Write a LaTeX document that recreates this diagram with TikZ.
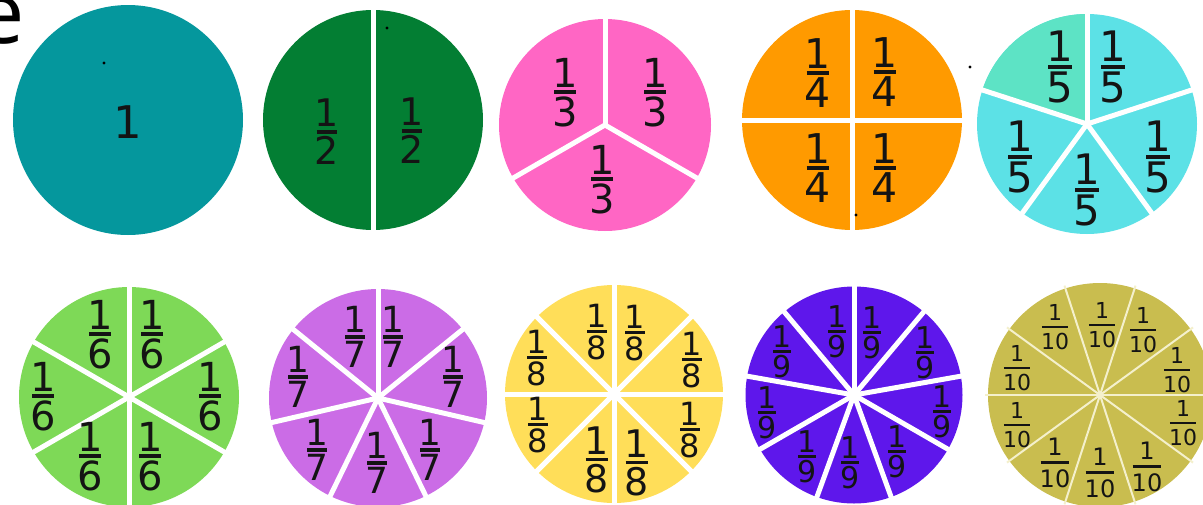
\documentclass[tikz,border=0pt]{standalone}
\usepackage{fontspec}
\setmainfont{DejaVu Sans}
\newfontfamily\osans{Open Sans}
\definecolor{ink}{HTML}{141414}
\definecolor{cTeal}{HTML}{05979D}
\definecolor{cGreen}{HTML}{037E33}
\definecolor{cPink}{HTML}{FF66C4}
\definecolor{cOrange}{HTML}{FF9A00}
\definecolor{cCyan}{HTML}{5CE1E6}
\definecolor{cMint}{HTML}{5DE3C5}
\definecolor{cLime}{HTML}{7ED957}
\definecolor{cViolet}{HTML}{CB6CE6}
\definecolor{cYellow}{HTML}{FFDE59}
\definecolor{cIndigo}{HTML}{5E17EB}
\definecolor{cOlive}{HTML}{C9BD4F}
\definecolor{cCream}{HTML}{F4F0CC}
\newcommand\fr[3]{\vbox{\offinterlineskip\halign{\hfil##\hfil\cr 1\cr\noalign{\kern#2}\rule{#3}{0.1em}\cr\noalign{\kern#2}#1\cr}}}
\begin{document}
\begin{tikzpicture}[x=1pt,y=-1pt,
  disc/.style={circle,inner sep=0pt,outer sep=0pt,minimum size=#1},
  cut/.style={white,line width=5pt,shorten >=-3pt},
  thincut/.style={cCream,line width=2pt,shorten >=-3pt},
  fs/.style={inner sep=0pt,text=ink,font=\fontsize{#1pt}{#1pt}\selectfont},
  speck/.style={fill=black}]
\useasboundingbox (0,0) rectangle (1203,504);
\fill[white] (0,0) rectangle (1203,504);
% letter at top left
\node[anchor=base west,inner sep=0pt,font=\fontsize{86pt}{86pt}\selectfont\osans] (e) at (-24,43) {e};
% discs
\node[disc=230pt,fill=cTeal] (c1) at (128,120) {};
\node[disc=220pt,fill=cGreen] (c2) at (373,120) {};
\node[disc=212pt,fill=cPink] (c3) at (605,125) {};
\node[disc=220pt,fill=cOrange] (c4) at (852,120) {};
\node[disc=220pt,fill=cCyan] (c5) at (1087,124) {};
\node[disc=220pt,fill=cLime] (c6) at (129,397) {};
\node[disc=218pt,fill=cViolet] (c7) at (378,398) {};
\node[disc=218pt,fill=cYellow] (c8) at (614,394) {};
\node[disc=217pt,fill=cIndigo] (c9) at (854,395) {};
\node[disc=224pt,fill=cOlive] (c10) at (1100,395) {};
% mint slice of the fifths
\fill[cMint] (c5.center) -- (c5.90) arc[start angle=90,end angle=162,radius=110pt] -- cycle;
% dividers
\foreach \a in {90,270} \draw[cut] (c2.center) -- (c2.\a);
\foreach \a in {90,210,330} \draw[cut] (c3.center) -- (c3.\a);
\foreach \a in {0,90,180,270} \draw[cut] (c4.center) -- (c4.\a);
\foreach \a in {18,90,162,234,306} \draw[cut] (c5.center) -- (c5.\a);
\foreach \a in {30,90,150,210,270,330} \draw[cut] (c6.center) -- (c6.\a);
\foreach \k in {0,...,6} {\pgfmathtruncatemacro\a{round(90+\k*360/7)} \draw[cut] (c7.center) -- (c7.\a);}
\foreach \a in {0,45,90,135,180,225,270,315} \draw[cut] (c8.center) -- (c8.\a);
\foreach \a in {10,50,90,130,170,210,250,290,330} \draw[cut] (c9.center) -- (c9.\a);
\foreach \a in {0,36,72,108,144,180,216,252,288,324} \draw[thincut] (c10.center) -- (c10.\a);
% labels
\node[fs=45] (l1) at (128,122) {1};
\foreach \x/\y [count=\i] in {327/132,412/131}
  \node[fs=38] (l2-\i) at (\x,\y) {\fr{2}{0.08em}{0.55em}};
\foreach \x/\y [count=\i] in {565/93,655/93,602/180}
  \node[fs=40] (l3-\i) at (\x,\y) {\fr{3}{0.07em}{0.55em}};
\foreach \x/\y [count=\i] in {818/73,885/72,818/168,885/168}
  \node[fs=41] (l4-\i) at (\x,\y) {\fr{4}{0.07em}{0.55em}};
\foreach \x/\y [count=\i] in {1060/67,1113/67,1158/157,1087/190,1020/157}
  \node[fs=42] (l5-\i) at (\x,\y) {\fr{5}{0.07em}{0.55em}};
\foreach \x/\y [count=\i] in {100/335,152/335,43/397,210/397,90/457,150/457}
  \node[fs=40] (l6-\i) at (\x,\y) {\fr{6}{0.07em}{0.55em}};
\foreach \x/\y [count=\i] in {355/337,393/337,453/377,430/450,377/463,317/450,298/377}
  \node[fs=36] (l7-\i) at (\x,\y) {\fr{7}{0.07em}{0.55em}};
\foreach \x/\y [count=\i] in {597/332,635/333,692/360,690/430,538/425,537/358}
  \node[fs=32] (l8-\i) at (\x,\y) {\fr{8}{0.08em}{0.6em}};
\foreach \x/\y [count=\i] in {597/460,637/463}
  \node[fs=38] (l8b-\i) at (\x,\y) {\fr{8}{0.07em}{0.6em}};
\foreach \x/\y [count=\i] in {837/332,872/333,925/353,942/412,897/452,850/463,807/457,767/413,782/352}
  \node[fs=30] (l9-\i) at (\x,\y) {\fr{9}{0.08em}{0.6em}};
\foreach \x/\y [count=\i] in {1055/327,1102/325,1143/330,1177/370,1183/423,1017/425,1017/368}
  \node[fs=22] (l10-\i) at (\x,\y) {\fr{10}{0.23em}{1.2em}};
\foreach \x/\y [count=\i] in {1147/467,1100/473,1055/463}
  \node[fs=24] (l10b-\i) at (\x,\y) {\fr{10}{0.23em}{1.2em}};
% specks
\fill[speck] (104,63) circle (1.6);
\fill[speck] (387,28) circle (1.6);
\fill[speck] (970,67) circle (1.6);
\fill[speck] (856,215) circle (1.6);
\end{tikzpicture}
\end{document}
